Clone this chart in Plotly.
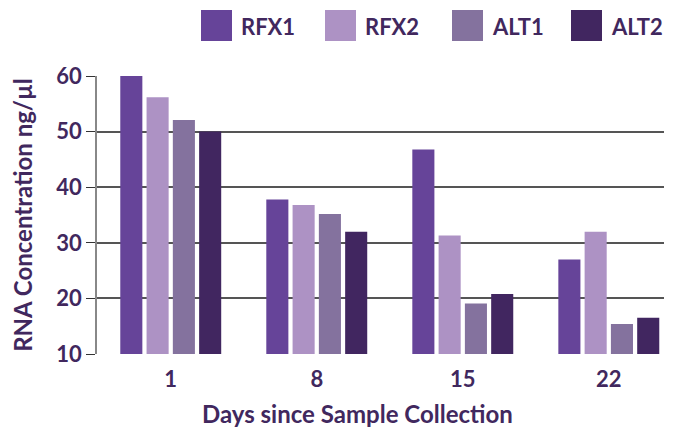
import plotly.graph_objects as go

days = ["1", "8", "15", "22"]
series_names = ["RFX1", "RFX2", "ALT1", "ALT2"]
rfx1 = [60.0, 37.8, 46.8, 27.0]
rfx2 = [56.2, 36.8, 31.3, 32.0]
alt1 = [52.1, 35.2, 19.1, 15.4]
alt2 = [50.0, 32.0, 20.8, 16.5]
colors = ["#664499", "#AD92C4", "#84729E", "#412660"]
y_ticks = [10, 20, 30, 40, 50, 60]
x_title = "Days since Sample Collection"
y_title = "RNA Concentration ng/µl"

# page body has an 8px margin; figure placed at (8, 8)
OFF = 8
W, H = 680 - OFF, 430 - OFF
L, R, T, B = 97 - OFF, 16, 76 - OFF, 76
TEXT = "#41285E"
FONT = "Lato"
FS = 22

fig = go.Figure()
for name, vals, col in zip(series_names, [rfx1, rfx2, alt1, alt2], colors):
    fig.add_trace(go.Bar(x=days, y=vals, name=name, marker=dict(color=col, line=dict(width=0)),
                         showlegend=False))

# page-pixel helpers for layout decorations
def px_x(p):
    return (p - OFF - L) / (W - L - R)

def px_y(p):
    return (H - B - (p - OFF)) / (H - T - B)

shapes = []
annotations = []
legend_sq_left = [201, 325, 452, 571]
for name, col, sx in zip(series_names, colors, legend_sq_left):
    shapes.append(dict(type="rect", xref="paper", yref="paper",
                       x0=px_x(sx), x1=px_x(sx + 31), y0=px_y(41), y1=px_y(10),
                       fillcolor=col, line=dict(width=0)))
    annotations.append(dict(text=name, xref="paper", yref="paper", x=px_x(sx + 38), y=px_y(26),
                            xanchor="left", yanchor="middle", showarrow=False,
                            font=dict(family=FONT, size=FS, color=TEXT, weight="bold")))
annotations.append(dict(text=x_title, xref="paper", yref="paper", x=px_x(357), y=px_y(413),
                        xanchor="center", yanchor="middle", showarrow=False,
                        font=dict(family=FONT, size=24, color=TEXT, weight="bold")))

fig.update_layout(
    width=W, height=H,
    margin=dict(l=L, r=R, t=T, b=B, autoexpand=False),
    paper_bgcolor="white", plot_bgcolor="white",
    barmode="group", bargap=0.28, bargroupgap=0.16,
    shapes=shapes, annotations=annotations,
    font=dict(family=FONT, color=TEXT),
    xaxis=dict(type="category", range=[-0.505, 3.378], automargin=False,
               showgrid=False, zeroline=False, showline=False, ticks="",
               ticklabelstandoff=10,
               tickfont=dict(family=FONT, size=FS, color=TEXT, weight="bold")),
    yaxis=dict(range=[10, 60], tickvals=y_ticks, showgrid=True, gridcolor="#555555", gridwidth=1.5,
               automargin=False,
               zeroline=False, showline=True, linecolor="#888888", linewidth=1.5,
               ticks="outside", ticklen=9, tickcolor="#333333", tickwidth=1,
               tickfont=dict(family=FONT, size=FS, color=TEXT, weight="bold"),
               title=dict(text=y_title, standoff=18,
                          font=dict(family=FONT, size=24, color=TEXT, weight="bold"))),
)

fig.write_html("out.html")
